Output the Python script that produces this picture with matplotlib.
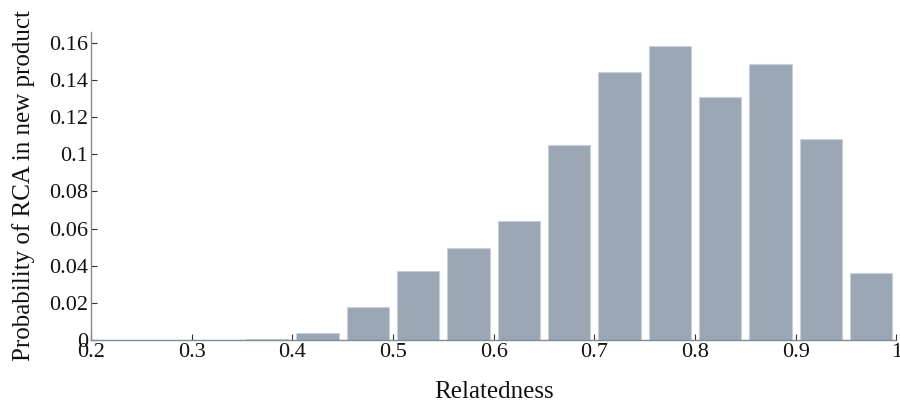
import matplotlib
matplotlib.use("Agg")
import matplotlib.pyplot as plt
import numpy as np

bin_left = [0.20, 0.25, 0.30, 0.35, 0.40, 0.45, 0.50, 0.55, 0.60, 0.65,
            0.70, 0.75, 0.80, 0.85, 0.90, 0.95]
probability = [0.0, 0.0, 0.0, 0.0005, 0.0039, 0.0176, 0.0369, 0.0493, 0.0641,
               0.1047, 0.1441, 0.158, 0.131, 0.1484, 0.108, 0.0359]
xticks = [0.2, 0.3, 0.4, 0.5, 0.6, 0.7, 0.8, 0.9, 1.0]
xtick_labels = ["0.2", "0.3", "0.4", "0.5", "0.6", "0.7", "0.8", "0.9", "1"]
yticks = [0, 0.02, 0.04, 0.06, 0.08, 0.1, 0.12, 0.14, 0.16]
ytick_labels = ["0", "0.02", "0.04", "0.06", "0.08", "0.1", "0.12", "0.14", "0.16"]

plt.rcParams['font.family'] = ['Liberation Serif', 'DejaVu Serif']

fig = plt.figure(figsize=(9, 4.05), dpi=100)
ax = fig.add_axes([0.101, 0.1605, 0.895, 0.7612])

bin_w = 0.05
centers = np.array(bin_left) + bin_w / 2
ax.bar(centers, probability, width=0.042, color="#9aa6b3",
       edgecolor="#c9d0d8", linewidth=0.8, zorder=2)

ax.set_xlim(0.2, 1.0)
ax.set_ylim(0, 0.1659)
ax.set_xticks(xticks)
ax.set_xticklabels(xtick_labels)
ax.set_yticks(yticks)
ax.set_yticklabels(ytick_labels)

axis_color = "#7d8a99"
for s in ["top", "right"]:
    ax.spines[s].set_visible(False)
for s in ["left", "bottom"]:
    ax.spines[s].set_color(axis_color)
    ax.spines[s].set_linewidth(1.0)

ax.tick_params(axis="both", direction="in", length=4, width=0.8,
               color="#333333", labelsize=16, labelcolor="#111111")
ax.tick_params(axis="x", pad=2)
ax.tick_params(axis="y", pad=2)

ax.set_xlabel("Relatedness", fontsize=18, color="#111111", labelpad=14)
ax.set_ylabel("Probability of RCA in new product", fontsize=18,
              color="#111111", labelpad=10)

fig.savefig("out.png", dpi=100)
